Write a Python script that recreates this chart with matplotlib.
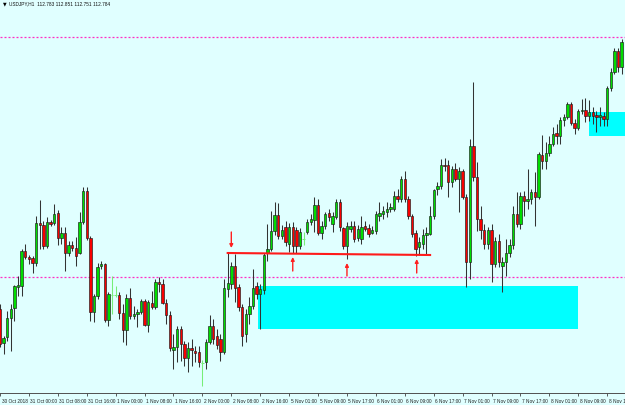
"""
USDJPY H1 chart, MT4 style: candles, two zones, a support line with arrows.
"""

import numpy as np
import matplotlib
matplotlib.use("Agg")
from matplotlib import pyplot as plt
from matplotlib.patches import Rectangle
from matplotlib.transforms import ScaledTranslation

# hourly bars from 30 Oct 2018 16:00
opens = [
    112.950, 112.780, 112.810, 112.905, 112.955, 113.060, 113.065, 113.240, 113.210, 113.205,
    113.180, 113.380, 113.370, 113.265, 113.385, 113.380, 113.430, 113.305, 113.330, 113.230,
    113.270, 113.255, 113.230, 113.385, 113.540, 113.305, 112.935, 113.015, 113.165, 113.175,
    112.895, 113.020, 113.020, 113.020, 112.930, 112.845, 113.005, 112.915, 112.925, 112.935,
    112.990, 112.870, 112.980, 112.960, 113.085, 113.075, 112.980, 112.920, 112.745, 112.760,
    112.850, 112.775, 112.705, 112.755, 112.740, 112.735, 112.680, 112.685, 112.785, 112.865,
    112.815, 112.800, 112.735, 113.050, 113.075, 113.165, 113.060, 112.960, 112.825, 112.925,
    112.965, 113.065, 113.025, 113.045, 113.230, 113.250, 113.340, 113.420, 113.315, 113.360,
    113.275, 113.360, 113.345, 113.265, 113.300, 113.335, 113.385, 113.395, 113.470, 113.330,
    113.365, 113.430, 113.375, 113.410, 113.485, 113.355, 113.265, 113.350, 113.365, 113.305,
    113.300, 113.365, 113.355, 113.330, 113.340, 113.415, 113.425, 113.435, 113.450, 113.450,
    113.515, 113.500, 113.600, 113.500, 113.415, 113.330, 113.260, 113.275, 113.320, 113.325,
    113.415, 113.550, 113.565, 113.670, 113.670, 113.585, 113.650, 113.600, 113.640, 113.510,
    113.185, 113.765, 113.610, 113.400, 113.345, 113.275, 113.345, 113.175, 113.290, 113.165,
    113.185, 113.230, 113.270, 113.425, 113.375, 113.515, 113.490, 113.500, 113.535, 113.510,
    113.720, 113.690, 113.730, 113.775, 113.830, 113.815, 113.895, 113.910, 113.975, 113.880,
    113.855, 113.940, 113.945, 113.915, 113.935, 113.920, 113.910, 113.915, 113.900, 114.055,
    114.135, 114.240, 114.160,
]
highs = [
    112.975, 112.815, 112.940, 112.975, 113.070, 113.115, 113.250, 113.275, 113.220, 113.215,
    113.415, 113.495, 113.390, 113.410, 113.395, 113.475, 113.445, 113.360, 113.360, 113.290,
    113.290, 113.310, 113.435, 113.560, 113.560, 113.315, 113.025, 113.180, 113.190, 113.180,
    113.035, 113.115, 113.065, 113.035, 112.975, 113.025, 113.055, 112.965, 112.950, 113.000,
    113.000, 112.995, 113.040, 113.100, 113.110, 113.100, 113.000, 112.940, 112.825, 112.865,
    112.865, 112.790, 112.785, 112.800, 112.765, 112.765, 112.695, 112.800, 112.920, 112.900,
    112.850, 112.825, 113.100, 113.230, 113.185, 113.225, 113.075, 112.975, 112.950, 113.010,
    113.150, 113.085, 113.075, 113.230, 113.375, 113.440, 113.485, 113.480, 113.370, 113.390,
    113.380, 113.385, 113.360, 113.355, 113.335, 113.400, 113.425, 113.510, 113.500, 113.390,
    113.435, 113.450, 113.435, 113.500, 113.500, 113.360, 113.385, 113.390, 113.390, 113.370,
    113.415, 113.390, 113.375, 113.365, 113.440, 113.485, 113.465, 113.485, 113.480, 113.540,
    113.550, 113.615, 113.640, 113.515, 113.425, 113.345, 113.310, 113.350, 113.360, 113.465,
    113.550, 113.585, 113.700, 113.705, 113.695, 113.665, 113.680, 113.660, 113.650, 113.525,
    113.800, 114.085, 113.685, 113.465, 113.375, 113.360, 113.375, 113.310, 113.325, 113.210,
    113.300, 113.300, 113.465, 113.535, 113.535, 113.540, 113.650, 113.550, 113.635, 113.735,
    113.820, 113.785, 113.815, 113.860, 113.875, 113.910, 113.925, 113.985, 113.985, 113.900,
    113.950, 114.000, 114.005, 113.995, 113.960, 113.940, 113.960, 113.935, 114.065, 114.155,
    114.255, 114.255, 114.300,
]
lows = [
    112.760, 112.725, 112.790, 112.740, 112.890, 113.015, 113.015, 113.200, 113.175, 113.130,
    113.165, 113.250, 113.250, 113.255, 113.365, 113.370, 113.270, 113.275, 113.140, 113.215,
    113.240, 113.165, 113.225, 113.375, 113.295, 112.890, 112.885, 113.000, 113.150, 112.885,
    112.865, 112.925, 113.010, 112.900, 112.785, 112.770, 112.900, 112.900, 112.860, 112.925,
    112.865, 112.835, 112.950, 112.950, 113.035, 112.975, 112.875, 112.740, 112.650, 112.685,
    112.690, 112.665, 112.635, 112.665, 112.685, 112.660, 112.565, 112.650, 112.775, 112.775,
    112.750, 112.690, 112.725, 113.010, 113.050, 112.985, 112.940, 112.765, 112.785, 112.875,
    112.950, 113.000, 112.850, 113.025, 113.190, 113.240, 113.320, 113.300, 113.300, 113.265,
    113.235, 113.230, 113.230, 113.250, 113.270, 113.325, 113.370, 113.335, 113.320, 113.300,
    113.350, 113.390, 113.335, 113.400, 113.340, 113.250, 113.200, 113.335, 113.285, 113.290,
    113.275, 113.340, 113.310, 113.325, 113.325, 113.390, 113.400, 113.410, 113.435, 113.440,
    113.485, 113.485, 113.485, 113.400, 113.310, 113.215, 113.220, 113.250, 113.225, 113.320,
    113.400, 113.520, 113.550, 113.640, 113.510, 113.560, 113.590, 113.435, 113.500, 113.060,
    113.100, 113.590, 113.340, 113.300, 113.250, 113.250, 113.085, 113.160, 113.160, 113.035,
    113.115, 113.210, 113.250, 113.360, 113.350, 113.415, 113.450, 113.475, 113.365, 113.500,
    113.650, 113.650, 113.715, 113.765, 113.775, 113.775, 113.865, 113.900, 113.870, 113.825,
    113.845, 113.925, 113.885, 113.890, 113.875, 113.835, 113.865, 113.865, 113.865, 114.040,
    114.125, 114.135, 114.125,
]
closes = [
    112.775, 112.805, 112.905, 112.950, 113.065, 113.070, 113.240, 113.210, 113.200, 113.180,
    113.380, 113.370, 113.265, 113.385, 113.375, 113.425, 113.305, 113.330, 113.230, 113.270,
    113.255, 113.215, 113.385, 113.540, 113.305, 112.935, 113.015, 113.160, 113.175, 112.895,
    113.025, 113.020, 113.020, 112.930, 112.845, 113.005, 112.915, 112.925, 112.935, 112.990,
    112.870, 112.985, 112.960, 113.085, 113.075, 112.980, 112.920, 112.755, 112.760, 112.850,
    112.775, 112.705, 112.755, 112.745, 112.730, 112.685, 112.680, 112.785, 112.865, 112.800,
    112.770, 112.735, 113.055, 113.080, 113.165, 113.055, 112.960, 112.815, 112.925, 112.965,
    113.055, 113.025, 113.050, 113.220, 113.250, 113.340, 113.420, 113.315, 113.345, 113.285,
    113.360, 113.265, 113.265, 113.335, 113.300, 113.385, 113.400, 113.470, 113.330, 113.365,
    113.425, 113.410, 113.415, 113.485, 113.360, 113.265, 113.365, 113.365, 113.300, 113.350,
    113.360, 113.350, 113.325, 113.345, 113.425, 113.430, 113.440, 113.450, 113.460, 113.515,
    113.500, 113.600, 113.500, 113.415, 113.325, 113.250, 113.285, 113.320, 113.330, 113.415,
    113.545, 113.565, 113.670, 113.665, 113.585, 113.650, 113.600, 113.640, 113.510, 113.185,
    113.765, 113.610, 113.400, 113.345, 113.275, 113.345, 113.175, 113.290, 113.185, 113.185,
    113.230, 113.270, 113.425, 113.375, 113.515, 113.490, 113.500, 113.535, 113.510, 113.725,
    113.690, 113.730, 113.775, 113.825, 113.815, 113.895, 113.910, 113.975, 113.880, 113.855,
    113.940, 113.945, 113.915, 113.935, 113.915, 113.910, 113.920, 113.900, 114.055, 114.135,
    114.240, 114.160, 114.285,
]

tick_bars = [0, 8, 16, 24, 32, 40, 48, 56, 64, 72, 80,
             88, 96, 104, 112, 120, 128, 136, 144, 152, 160, 168]
tick_text = ["30 Oct 2018", "31 Oct 00:00", "31 Oct 08:00", "31 Oct 16:00",
             "1 Nov 00:00", "1 Nov 08:00", "1 Nov 16:00", "2 Nov 00:00",
             "2 Nov 08:00", "2 Nov 16:00", "5 Nov 01:00", "5 Nov 09:00",
             "5 Nov 17:00", "6 Nov 01:00", "6 Nov 09:00", "6 Nov 17:00",
             "7 Nov 01:00", "7 Nov 09:00", "7 Nov 17:00", "8 Nov 01:00",
             "8 Nov 09:00", "8 Nov 17:00"]

header = "USDJPY,H1  112.783 112.851 112.751 112.784"

# objects drawn on the chart (bar index, price)
dotted_levels = [114.310, 113.110]
zones = [(71.3, 159.9, 112.850, 113.065), (163.0, 176.0, 113.815, 113.935)]
support = ([63, 119], [113.230, 113.220])
down_arrows = [(64, 113.335, 113.255)]
up_arrows = [(81, 113.140, 113.210), (96, 113.115, 113.180), (115.3, 113.130, 113.200)]

bg = "#e0ffff"
bull_col = "#00dd00"
bear_col = "#f80000"
doji_col = "#77ee77"
wick_col = "#333333"

fig = plt.figure(figsize=(6.25, 4.06), dpi=100, facecolor=bg)
ax = fig.add_axes([0, 12 / 406, 1, 394 / 406], facecolor=bg)
ax.set_xlim(0.28, 172.93)
ax.set_ylim(112.53, 114.50)

o = np.array(opens)
h = np.array(highs)
l = np.array(lows)
c = np.array(closes)
x = np.arange(len(o))
up = c > o
dn = c < o
dj = c == o

# zones and levels behind the candles
for x0, x1, y0, y1 in zones:
    ax.add_patch(Rectangle((x0, y0), x1 - x0, y1 - y0, facecolor="#00ffff",
                           edgecolor="none", zorder=1))
for lvl in dotted_levels:
    ax.axhline(lvl, color="#ff2ec4", lw=0.9, ls=(0, (1.6, 1.6)), zorder=2)

# candles
ax.vlines(x[~dj], l[~dj], h[~dj], color=wick_col, lw=0.75, zorder=3)
ax.bar(x[up], (c - o)[up], 0.66, bottom=o[up], color=bull_col,
       edgecolor="#1a1a1a", linewidth=0.45, zorder=4)
ax.bar(x[dn], (o - c)[dn], 0.66, bottom=c[dn], color=bear_col,
       edgecolor="#1a1a1a", linewidth=0.45, zorder=4)
ax.vlines(x[dj], l[dj], h[dj], color=doji_col, lw=0.75, zorder=3)
ax.hlines(o[dj], x[dj] - 0.4, x[dj] + 0.4, color=doji_col, lw=0.75, zorder=3)

# support line and arrows
ax.plot(support[0], support[1], color="#ff1a1a", lw=1.5, zorder=5)
for xa, y_from, y_to in down_arrows + up_arrows:
    ax.annotate("", xy=(xa, y_to), xytext=(xa, y_from),
                arrowprops=dict(arrowstyle="-|>", color="#ff2020", lw=1.0,
                                mutation_scale=5, shrinkA=0, shrinkB=0),
                zorder=6)

# axes look
for side in ["top", "left", "right"]:
    ax.spines[side].set_visible(False)
ax.spines["bottom"].set_color("#505050")
ax.spines["bottom"].set_linewidth(0.7)
ax.set_yticks([])
ax.set_xticks(tick_bars, tick_text)
ax.tick_params(axis="x", length=2.5, width=0.6, color="#404040", pad=0.8,
               labelsize=3.4, labelcolor="#202020", direction="out")
shift = ScaledTranslation(1.5 / 100, 0, fig.dpi_scale_trans)
for lab in ax.get_xticklabels():
    lab.set_ha("left")
    lab.set_fontfamily("Liberation Sans")
    lab.set_transform(lab.get_transform() + shift)

fig.text(3 / 625, 1 - 1.5 / 406, "\u25bc", fontsize=3.4, va="top", color="black",
         family="DejaVu Sans")
fig.text(9 / 625, 1 - 1.5 / 406, header, fontsize=3.4, va="top", color="#111111",
         family="Liberation Sans")

fig.savefig("out.png", dpi=100, facecolor=bg)
